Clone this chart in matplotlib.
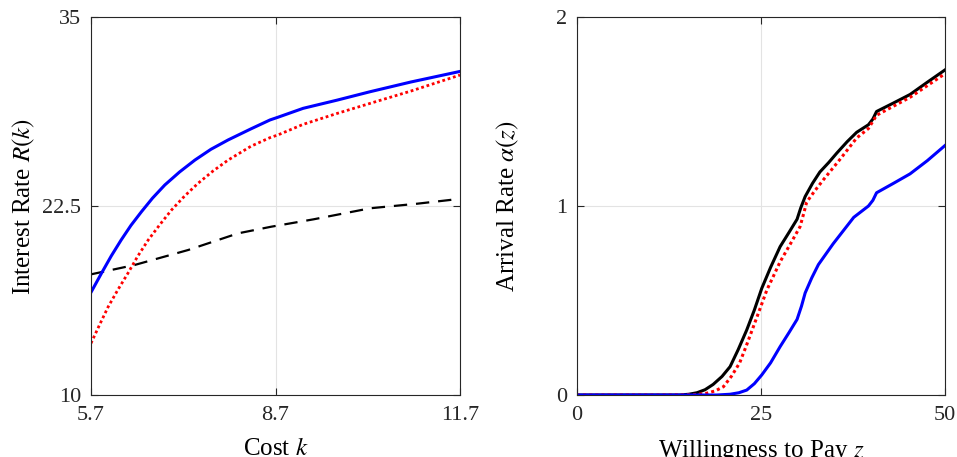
import numpy as np
import matplotlib
matplotlib.use("Agg")
import matplotlib.pyplot as plt

plt.rcParams['font.family'] = ['Liberation Serif', 'DejaVu Serif']
plt.rcParams['mathtext.fontset'] = 'stix'

# Left panel: interest rate vs cost
k_blue = [5.7, 5.87, 6.03, 6.19, 6.35, 6.52, 6.70, 6.90, 7.14, 7.39, 7.65, 7.93, 8.30, 8.61, 8.74, 9.15, 9.70, 10.24, 10.90, 11.7]
r_blue = [16.79, 18.05, 19.20, 20.25, 21.22, 22.12, 23.02, 23.89, 24.75, 25.54, 26.25, 26.87, 27.60, 28.19, 28.37, 28.96, 29.50, 30.06, 30.70, 31.40]
k_red = [5.7, 5.84, 5.98, 6.14, 6.30, 6.46, 6.63, 6.82, 7.01, 7.22, 7.44, 7.68, 7.93, 8.30, 8.61, 8.74, 9.15, 9.70, 10.24, 10.90, 11.7]
r_red = [13.42, 14.65, 15.84, 16.98, 18.05, 19.18, 20.25, 21.27, 22.24, 23.15, 24.00, 24.80, 25.54, 26.45, 27.02, 27.20, 27.90, 28.62, 29.29, 30.10, 31.16]
k_black = [5.7, 6.41, 7.28, 8.09, 8.63, 9.32, 10.24, 11.0, 11.54, 11.7]
r_black = [17.98, 18.60, 19.59, 20.69, 21.13, 21.62, 22.35, 22.65, 22.90, 23.00]

# Right panel: arrival rate vs willingness to pay
z_black = [0, 10, 14.0, 15.2, 16.3, 17.4, 18.5, 19.7, 20.8, 21.9, 23.06, 24.1, 25.1, 26.3, 27.6, 28.8, 29.9, 30.4, 31.0, 32.0, 33.0, 34.2, 35.3, 36.7, 38.0, 39.6, 40.2, 40.7, 43.0, 45.25, 47.6, 50]
a_black = [0, 0, 0.0, 0.004, 0.012, 0.028, 0.056, 0.098, 0.15, 0.24, 0.344, 0.45, 0.564, 0.675, 0.785, 0.86, 0.93, 0.99, 1.05, 1.12, 1.18, 1.23, 1.28, 1.34, 1.39, 1.43, 1.46, 1.50, 1.545, 1.59, 1.655, 1.72]
z_red = [0, 12, 16.0, 17.6, 18.8, 19.9, 21.0, 22.1, 23.0, 23.95, 24.9, 25.8, 26.7, 27.6, 29.0, 30.3, 30.8, 31.2, 32.3, 33.5, 35.8, 38.0, 39.6, 40.7, 45.25, 50]
a_red = [0, 0, 0.002, 0.009, 0.022, 0.044, 0.10, 0.17, 0.26, 0.36, 0.46, 0.556, 0.63, 0.705, 0.80, 0.89, 0.96, 1.02, 1.08, 1.14, 1.25, 1.36, 1.41, 1.48, 1.575, 1.70]
z_blue = [0, 15, 19.0, 20.8, 22.0, 23.06, 24.1, 25.1, 26.3, 27.6, 28.8, 29.9, 30.5, 31.0, 31.9, 32.8, 33.8, 34.8, 36.2, 37.6, 38.6, 39.6, 40.2, 40.7, 43.0, 45.25, 47.6, 50]
a_blue = [0, 0, 0.0, 0.004, 0.012, 0.026, 0.06, 0.106, 0.17, 0.256, 0.33, 0.40, 0.47, 0.54, 0.62, 0.69, 0.745, 0.80, 0.87, 0.94, 0.97, 1.0, 1.03, 1.07, 1.12, 1.17, 1.24, 1.32]

fig = plt.figure(figsize=(9.57, 4.57), dpi=100)
ax1 = fig.add_axes([91/957, 1-395/457, (460-91)/957, (395-17)/457])
ax2 = fig.add_axes([577/957, 1-395/457, (945-577)/957, (395-17)/457])

ax1.plot(k_black, r_black, color='black', ls=(0, (6, 4)), lw=1.6)
ax1.plot(k_red, r_red, color='red', ls=(0, (1, 1)), lw=2.0)
ax1.plot(k_blue, r_blue, color='blue', lw=2.2)
ax1.set_xlim(5.7, 11.7)
ax1.set_ylim(10, 35)
ax1.set_xticks([5.7, 8.7, 11.7])
ax1.set_xticklabels(['5.7', '8.7', '11.7'])
ax1.set_yticks([10, 22.5, 35])
ax1.set_yticklabels(['10', '22.5', '35'])
ax1.set_xlabel('Cost $k$', fontsize=18, labelpad=9)
ax1.set_ylabel('Interest Rate $R(k)$', fontsize=18, labelpad=4)

ax2.plot(z_black, a_black, color='black', lw=2.2)
ax2.plot(z_red, a_red, color='red', ls=(0, (1, 1)), lw=2.2)
ax2.plot(z_blue, a_blue, color='blue', lw=2.2)
ax2.set_xlim(0, 50)
ax2.set_ylim(0, 2)
ax2.set_xticks([0, 25, 50])
ax2.set_yticks([0, 1, 2])
ax2.set_xlabel('Willingness to Pay $z$', fontsize=18, labelpad=9)
ax2.set_ylabel(r'Arrival Rate $\alpha(z)$', fontsize=18, labelpad=25)

for ax in (ax1, ax2):
    ax.grid(True, color='#e3e3e3', lw=0.8)
    ax.set_axisbelow(True)
    ax.tick_params(direction='in', length=5, width=0.8, labelsize=16,
                   top=True, right=True, colors='#262626')
    ax.tick_params(axis='x', pad=8)
    ax.tick_params(axis='y', pad=7)
    for s in ax.spines.values():
        s.set_color('#262626')
        s.set_linewidth(0.8)

fig.savefig('out.png', dpi=100)
